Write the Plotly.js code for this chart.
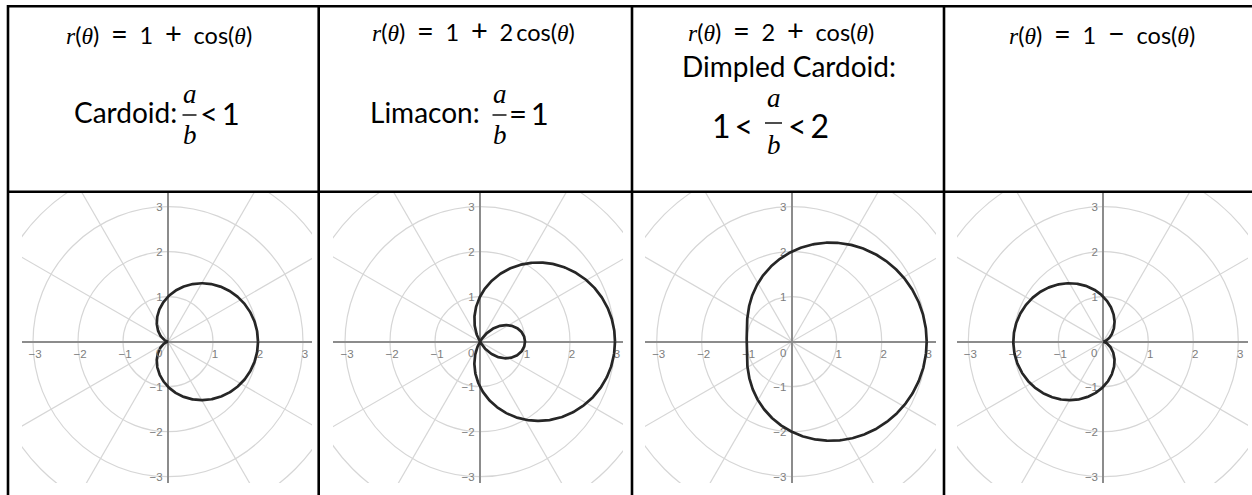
<!DOCTYPE html>
<html>
<head>
<meta charset="utf-8">
<script src="https://cdn.plot.ly/plotly-3.0.1.min.js"></script>
<style>
  html, body { margin: 0; padding: 0; background: #fff; }
  #chart { width: 1252px; height: 495px; }
</style>
</head>
<body>
<div id="chart"></div>
<script>
// Limaçon family r(θ) = a + b·cos(θ), one panel per table column
const termA = [1, 1, 2, 1];          // constant term a
const termB = [1, 2, 1, -1];         // cosine coefficient b
const tickValues = [-3, -2, -1, 1, 2, 3];
const tickLabels = ['−3', '−2', '−1', '1', '2', '3'];
const ringRadii = [1, 2, 3, 4];
const spokeAngles = [0, 30, 60, 90, 120, 150];
const curveNames = ['Cardoid:', 'Limacon:', 'Dimpled Cardoid:', ''];

const W = 1252, H = 495;
const fx = p => p / W;
const fy = p => 1 - p / H;

const AXIS = '#8c8c8c';
const GRID = '#d6d6d6';
const INK = '#000';

// pixel frame of each panel
const panelLeft = [22, 333, 645, 957];
const panelRight = [312, 623, 936, 1248];
const originX = [168, 480, 791.7, 1103.3];
const panelTop = 192.5, panelBottom = 483, originY = 341.7, unit = 45;

const EN = '\u2002', THIN = '\u2009';
const it = s => '<span style="font-family:Liberation Serif;font-style:italic">' + s + '</span>';
const op = s => '<span style="font-size:29px">' + s + '</span>';
const signText = b => EN + op(b < 0 ? '−' : '+') + EN;
const coefText = b => (Math.abs(b) === 1 ? '' : Math.abs(b) + THIN);
const formulaText = i =>
  it('r') + '(' + it('θ') + ')' + EN + op('=') + EN + termA[i] + signText(termB[i]) + coefText(termB[i]) +
  'cos(' + it('θ') + ')';

const data = [];
const layout = {
  width: W, height: H,
  margin: { l: 0, r: 0, t: 0, b: 0 },
  paper_bgcolor: '#fff',
  plot_bgcolor: 'rgba(0,0,0,0)',
  showlegend: false,
  font: { family: 'Lato', color: INK },
  shapes: [],
  annotations: []
};

const theta = Array.from({ length: 721 }, (_, k) => k * Math.PI / 360);

for (let i = 0; i < 4; i++) {
  const xa = i === 0 ? 'x' : 'x' + (i + 1);
  const ya = i === 0 ? 'y' : 'y' + (i + 1);
  const xr = [(panelLeft[i] - originX[i]) / unit, (panelRight[i] - originX[i]) / unit];
  const yr = [(originY - panelBottom) / unit, (originY - panelTop) / unit];
  const tickStyle = { family: 'Liberation Sans', size: 11.5, color: '#7d7d7d' };

  layout[i === 0 ? 'xaxis' : 'xaxis' + (i + 1)] = {
    domain: [fx(panelLeft[i]), fx(panelRight[i])], range: xr,
    anchor: 'free', position: fy(originY),
    showline: true, linecolor: AXIS, linewidth: 2, layer: 'below traces',
    showgrid: false, zeroline: false, ticks: '',
    tickmode: 'array', tickvals: tickValues, ticktext: tickLabels,
    tickfont: tickStyle, ticklabelshift: 2, ticklabelstandoff: 1, fixedrange: true
  };
  layout[i === 0 ? 'yaxis' : 'yaxis' + (i + 1)] = {
    domain: [fy(panelBottom), fy(panelTop)], range: yr,
    anchor: 'free', position: fx(originX[i]),
    showline: true, linecolor: AXIS, linewidth: 2, layer: 'below traces',
    showgrid: false, zeroline: false, ticks: '',
    tickmode: 'array', tickvals: tickValues, ticktext: tickLabels,
    tickfont: tickStyle, ticklabelstandoff: 2, fixedrange: true
  };

  // polar grid: rings and spokes
  ringRadii.forEach(r => layout.shapes.push({
    type: 'circle', xref: xa, yref: ya, x0: -r, x1: r, y0: -r, y1: r,
    line: { color: GRID, width: 1.2 }, layer: 'below'
  }));
  spokeAngles.forEach(a => {
    const c = Math.cos(a * Math.PI / 180) * 6, s = Math.sin(a * Math.PI / 180) * 6;
    layout.shapes.push({
      type: 'line', xref: xa, yref: ya, x0: -c, y0: -s, x1: c, y1: s,
      line: { color: GRID, width: 1.2 }, layer: 'below'
    });
  });

  // origin label
  layout.annotations.push({
    xref: xa, yref: ya, x: -0.2, y: -0.26, text: '0', showarrow: false,
    font: tickStyle, xanchor: 'center', yanchor: 'middle'
  });

  // the curve
  const r = theta.map(t => termA[i] + termB[i] * Math.cos(t));
  data.push({
    type: 'scatter', mode: 'lines', xaxis: xa, yaxis: ya,
    x: r.map((v, k) => v * Math.cos(theta[k])),
    y: r.map((v, k) => v * Math.sin(theta[k])),
    line: { color: '#262626', width: 2.7, shape: 'linear' },
    hoverinfo: 'skip'
  });
}

// table rules
const rule = (x0, y0, x1, y1) => layout.shapes.push({
  type: 'line', xref: 'paper', yref: 'paper',
  x0: fx(x0), y0: fy(y0), x1: fx(x1), y1: fy(y1),
  line: { color: '#000', width: 2.6 }, layer: 'above'
});
rule(7, 6.3, 1252, 6.3);
rule(7, 191.8, 1252, 191.8);
[8, 318.7, 632, 944].forEach(x => rule(x, 5, x, 495));

// header text
const text = (t, x, y, size, xanchor, family) => layout.annotations.push({
  xref: 'paper', yref: 'paper', x: fx(x), y: fy(y), text: t, showarrow: false,
  xanchor: xanchor || 'center', yanchor: 'middle',
  font: { family: family || 'Lato', size: size, color: INK }
});
const fraction = (cx, barY, half, gapA, gapB, size) => {
  text(it('a'), cx, barY - gapA, size);
  text(it('b'), cx, barY + gapB, size);
  layout.shapes.push({
    type: 'line', xref: 'paper', yref: 'paper',
    x0: fx(cx - half), x1: fx(cx + half), y0: fy(barY), y1: fy(barY),
    line: { color: INK, width: 1.4 }, layer: 'above'
  });
};

const formulaX = [159, 473, 781, 1102];
const formulaY = [33, 29, 29, 33];
for (let i = 0; i < 4; i++) text(formulaText(i), formulaX[i], formulaY[i], 23.5);

// Cardoid: a/b < 1
text(curveNames[0], 179, 112, 28, 'right');
fraction(189.5, 115, 7, 21, 20, 27);
text('<' + THIN + '1', 198, 113, 31, 'left');

// Limacon: a/b = 1
text(curveNames[1], 482, 112, 28, 'right');
fraction(499.5, 115, 7, 21, 20, 27);
text('=' + THIN + '1', 507, 113, 31, 'left');

// Dimpled Cardoid: 1 < a/b < 2
text(curveNames[2], 788.5, 66, 28);
text('1' + THIN + '<', 755, 125, 32, 'right');
fraction(773.5, 123, 8.5, 25, 22, 27);
text('<' + THIN + '2', 786, 125, 32, 'left');

Plotly.newPlot('chart', data, layout, { displayModeBar: false, staticPlot: true });
</script>
</body>
</html>
